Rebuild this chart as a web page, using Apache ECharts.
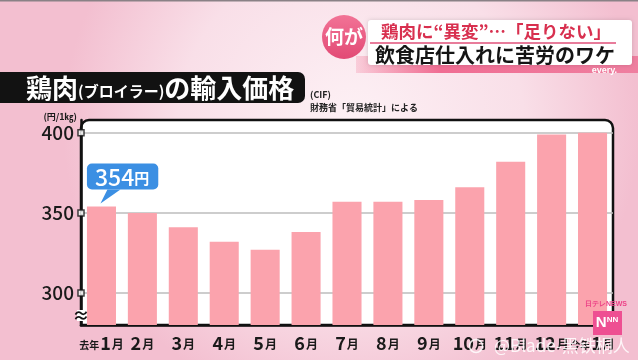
<!DOCTYPE html>
<html><head><meta charset="utf-8">
<script src="https://cdn.jsdelivr.net/npm/echarts@6/dist/echarts.min.js"></script>
<style>html,body{margin:0;padding:0;}#c{width:638px;height:360px;}</style>
</head><body><div id="c"></div>
<script>
const categories = ['去年1月','2月','3月','4月','5月','6月','7月','8月','9月','10月','11月','12月','今年1月'];
const prices = [354, 350, 341, 332, 327, 338, 357, 357, 358, 366, 382, 399, 400];
const tickLabels = [300, 350, 400];
const calloutText = '354';
const FONT = '"Noto Sans CJK JP", "Noto Sans", sans-serif';

const chart = echarts.init(document.getElementById('c'), null, {renderer: 'canvas'});
const option = {
  animation: false,
  backgroundColor: 'transparent',
  grid: {left: 81, right: 25, top: 120, bottom: 35, containLabel: false},
  xAxis: [{
    type: 'category', data: categories,
    axisLine: {show: true, lineStyle: {color: '#111', width: 2.5}},
    axisTick: {show: true, inside: true, alignWithLabel: true, length: 4, lineStyle: {color: '#222', width: 2}},
    axisLabel: {
      margin: 9, interval: 0,
      formatter: function (v) {
        const m = v.match(/^(去年|今年)?(\d+)(月)$/);
        if (!m) return v;
        return (m[1] ? '{p|' + m[1] + '}' : '') + '{n|' + m[2] + '}{m|月}';
      },
      rich: {
        p: {fontSize: 10, fontWeight: 'bold', color: '#1a1a1a', fontFamily: FONT, padding: [4, 1, 0, 0]},
        n: {fontSize: 18, fontWeight: 'bold', color: '#1a1a1a', fontFamily: FONT},
        m: {fontSize: 12, fontWeight: 'bold', color: '#1a1a1a', fontFamily: FONT, padding: [3, 0, 0, 1]}
      }
    }
  }, {
    type: 'value', min: 0, max: 1, show: false
  }],
  yAxis: {
    type: 'value', min: 280, max: 408, interval: 10,
    axisLine: {show: true, lineStyle: {color: '#111', width: 2.5}},
    axisTick: {show: false},
    splitLine: {show: false},
    axisLabel: {
      margin: 7, color: '#1a1a1a', fontSize: 19, fontFamily: FONT, fontWeight: 500,
      showMaxLabel: false,
      formatter: function (v) { return tickLabels.indexOf(v) >= 0 ? String(v) : ''; }
    }
  },
  series: [{
    type: 'bar', data: prices.map(function (v, i) {
      if (i === 0) {
        return {value: v, label: {
          show: true, position: [0, -43], align: 'left', verticalAlign: 'top',
          formatter: '{a|' + calloutText + '}{b|円}',
          backgroundColor: '#3b8fe3', borderRadius: 5, padding: [1, 9, 0, 8],
          rich: {
            a: {fontSize: 23, color: '#fff', fontFamily: FONT, fontWeight: 500, lineHeight: 25},
            b: {fontSize: 15, color: '#fff', fontFamily: FONT, fontWeight: 'bold', lineHeight: 25, padding: [2, 0, 0, 0]}
          }
        }};
      }
      return v;
    }),
    barWidth: '71%',
    itemStyle: {color: '#fba3ad'},
    z: 3,
    markLine: {
      silent: true, symbol: 'none', z: 2,
      label: {show: false},
      lineStyle: {color: '#bcbcbc', width: 1.5, type: 'solid'},
      data: tickLabels.map(function (t) { return {yAxis: t}; })
    },
    markPoint: {
      silent: true,
      symbol: 'path://M7,0 L20,0 L0,14 Z', symbolSize: [20, 14], symbolKeepAspect: false,
      symbolOffset: [9, -10],
      itemStyle: {color: '#3b8fe3'},
      label: {show: false},
      data: [{coord: [0, prices[0]]}]
    }
  }, {
    type: 'scatter', xAxisIndex: 1, yAxisIndex: 0,
    data: tickLabels.map(function (t) { return [0, t]; }),
    symbol: 'rect', symbolSize: 6, z: 10, silent: true,
    itemStyle: {color: '#fff', borderColor: '#111', borderWidth: 1.5}
  }],
  graphic: [
    {type: 'rect', z: -20, silent: true, shape: {x: 0, y: 0, width: 638, height: 360},
      style: {fill: new echarts.graphic.RadialGradient(0.55, 0.35, 0.8, [
        {offset: 0, color: '#fdf1f5'}, {offset: 0.6, color: '#f9dfe8'}, {offset: 1, color: '#f3bfd0'}])}},
    {type: 'rect', z: -19, silent: true, shape: {x: 0, y: 0, width: 638, height: 1.5}, style: {fill: '#8a8186'}},
    {type: 'rect', z: -5, silent: true, shape: {x: 81, y: 120, width: 532, height: 205, r: [8, 8, 0, 0]},
      style: {fill: '#fff', stroke: '#111', lineWidth: 2.5}},
    {type: 'rect', z: 20, silent: true, shape: {x: 77, y: 310, width: 8, height: 11}, style: {fill: '#fff'}},
    {type: 'text', z: 21, silent: true, x: 81, y: 316, style: {text: '≈', font: 'bold 17px ' + FONT, fill: '#111', align: 'center', verticalAlign: 'middle'}},
    {type: 'text', z: 5, silent: true, x: 77, y: 117, style: {text: '(円/1㎏)', font: 'bold 9px ' + FONT, fill: '#1a1a1a', align: 'right', verticalAlign: 'middle'}},
    {type: 'rect', z: 5, silent: true, shape: {x: -10, y: 72, width: 315, height: 31, r: 7}, style: {fill: '#121212'}},
    {type: 'text', z: 6, silent: true, x: 26, y: 88, style: {
      text: '{a|鶏肉}{b|(ブロイラー)}{a|の輸入価格}', verticalAlign: 'middle', align: 'left',
      rich: {
        a: {fontSize: 26, fontWeight: 'bold', fill: '#fff', fontFamily: FONT},
        b: {fontSize: 15, fontWeight: 'bold', fill: '#fff', fontFamily: FONT, padding: [6, 0, 0, 0]}
      }}},
    {type: 'text', z: 6, silent: true, x: 310, y: 95, style: {text: '(CIF)', font: 'bold 9px ' + FONT, fill: '#222', verticalAlign: 'middle'}},
    {type: 'text', z: 6, silent: true, x: 310, y: 108, style: {text: '財務省「貿易統計」による', font: 'bold 9px ' + FONT, fill: '#222', verticalAlign: 'middle'}},
    {type: 'rect', z: 4, silent: true, shape: {x: 356, y: 56, width: 282, height: 17},
      style: {fill: new echarts.graphic.LinearGradient(0, 0, 1, 0, [
        {offset: 0, color: 'rgba(240,90,130,0.2)'}, {offset: 0.3, color: '#f06d93'}, {offset: 1, color: '#ef7fa0'}])}},
    {type: 'rect', z: 5, silent: true, shape: {x: 368, y: 20, width: 264, height: 45, r: 3},
      style: {fill: '#fff', shadowBlur: 4, shadowColor: 'rgba(0,0,0,0.15)'}},
    {type: 'circle', z: 6, silent: true, shape: {cx: 344, cy: 37, r: 22},
      style: {fill: new echarts.graphic.LinearGradient(0, 0, 0, 1, [{offset: 0, color: '#f27396'}, {offset: 1, color: '#e24a75'}])}},
    {type: 'text', z: 7, silent: true, x: 344, y: 37, style: {text: '何が', font: 'bold 19px ' + FONT, fill: '#fff', align: 'center', verticalAlign: 'middle'}},
    {type: 'text', z: 7, silent: true, x: 381, y: 31, style: {text: '鶏肉に“異変”…「足りない」', font: 'bold 17.5px ' + FONT, fill: '#d8304f', verticalAlign: 'middle'}},
    {type: 'line', z: 7, silent: true, shape: {x1: 370, y1: 43, x2: 616, y2: 43}, style: {stroke: '#e0507a', lineWidth: 1.5}},
    {type: 'text', z: 7, silent: true, x: 375, y: 55, style: {text: '飲食店仕入れに苦労のワケ', font: 'bold 20px ' + FONT, fill: '#141414', verticalAlign: 'middle'}},
    {type: 'text', z: 7, silent: true, x: 617, y: 71, style: {text: 'every.', font: 'bold 9px "Liberation Sans", sans-serif', fill: '#fff', align: 'right', verticalAlign: 'middle'}},
    {type: 'text', z: 7, silent: true, x: 606, y: 304, style: {text: '日テレNEWS', font: 'bold 7px "Liberation Sans", sans-serif', fill: '#ec3f86', align: 'center', verticalAlign: 'middle'}},
    {type: 'rect', z: 7, silent: true, shape: {x: 593, y: 311, width: 29, height: 24}, style: {fill: '#ee4f92'}},
    {type: 'text', z: 8, silent: true, x: 607, y: 323, style: {text: '{a|N}{b|NN}', verticalAlign: 'middle', align: 'center',
      rich: {a: {fontSize: 15, fontWeight: 'bold', fill: '#fff', fontFamily: '"Liberation Sans"'}, b: {fontSize: 8, fontWeight: 'bold', fill: '#fff', fontFamily: '"Liberation Sans"', padding: [0, 0, 6, 0]}}}},
    {type: 'circle', z: 30, silent: true, shape: {cx: 476, cy: 346, r: 6.5}, style: {fill: 'none', stroke: 'rgba(255,255,255,0.85)', lineWidth: 1.5}},
    {type: 'text', z: 30, silent: true, x: 494, y: 346, style: {text: '@Blade-黑铁桐人', font: '17px "Noto Sans CJK SC", sans-serif', fill: 'rgba(255,255,255,0.85)', verticalAlign: 'middle'}}
  ]
};
chart.setOption(option);
</script>
</body></html>
